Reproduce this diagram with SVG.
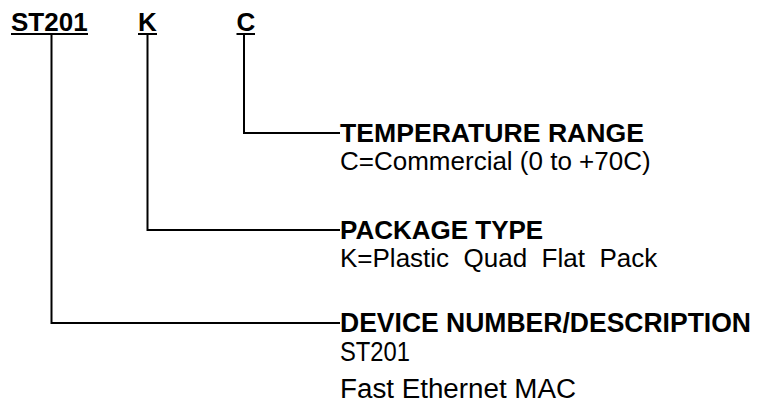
<svg xmlns="http://www.w3.org/2000/svg" width="758" height="407" viewBox="0 0 758 407">
<style>
.b{font-family:"Liberation Sans",Arial,sans-serif;font-weight:bold;font-size:26px;fill:#000}
.r{font-family:"Liberation Sans",Arial,sans-serif;font-size:26px;fill:#000;white-space:pre}
.ul{fill:#000}
.conn{fill:none;stroke:#000;stroke-width:2}
</style>
<rect width="758" height="407" fill="#fff"/>
<g id="code-st201">
<text class="b" x="11" y="31">ST201</text>
<rect class="ul" x="11" y="33" width="77" height="2"/>
</g>
<g id="code-k">
<text class="b" x="138" y="31">K</text>
<rect class="ul" x="138" y="33" width="19" height="2"/>
</g>
<g id="code-c">
<text class="b" x="236.5" y="31">C</text>
<rect class="ul" x="236.5" y="33" width="18.5" height="2"/>
</g>
<g id="connectors">
<path class="conn" d="M244,35 V133 H340"/>
<path class="conn" d="M147.5,35 V230 H340"/>
<path class="conn" d="M51.5,35 V323 H340"/>
</g>
<g id="temperature-range">
<text class="b" x="340" y="142" textLength="304" lengthAdjust="spacingAndGlyphs">TEMPERATURE RANGE</text>
<text class="r" x="340" y="170">C=Commercial (0 to +70C)</text>
</g>
<g id="package-type">
<text class="b" x="340" y="239">PACKAGE TYPE</text>
<text class="r" x="340" y="267" xml:space="preserve">K=Plastic  Quad  Flat  Pack</text>
</g>
<g id="device-number">
<text class="b" x="340" y="332" style="font-size:27px" textLength="411" lengthAdjust="spacingAndGlyphs">DEVICE NUMBER/DESCRIPTION</text>
<text class="r" x="340" y="361" style="font-size:27px" textLength="70" lengthAdjust="spacingAndGlyphs">ST201</text>
<text class="r" x="340" y="398" style="font-size:27px" textLength="236" lengthAdjust="spacingAndGlyphs">Fast Ethernet MAC</text>
</g>
</svg>
